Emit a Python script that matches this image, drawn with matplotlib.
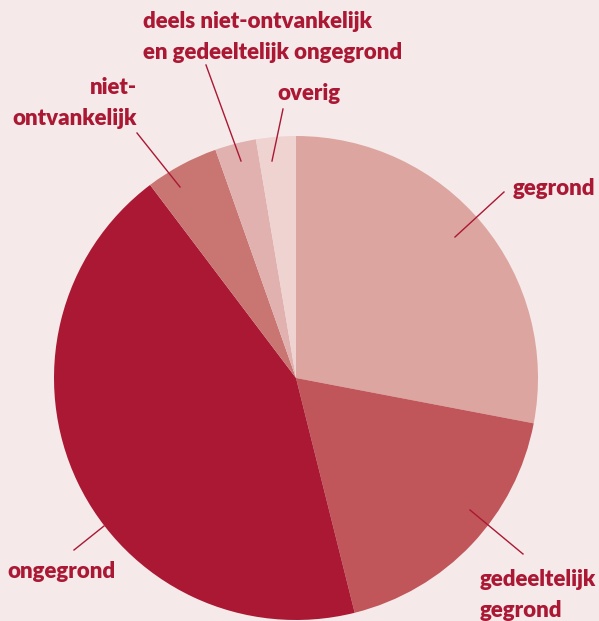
import numpy as np
import matplotlib.pyplot as plt

# slice data, clockwise from 12 o'clock
labels = ['gegrond', 'gedeeltelijk\ngegrond', 'ongegrond', 'niet-\nontvankelijk',
          'deels niet-ontvankelijk\nen gedeeltelijk ongegrond', 'overig']
values = [28.0, 18.1, 43.6, 4.9, 2.75, 2.65]
colors = ['#DCA5A0', '#C0555A', '#AA1834', '#C97572', '#E0B1AE', '#EED3D1']

bg = '#F6E9E9'
txt = '#AA1834'

W, H = 599, 621
cx, cy, R = 296, 378, 242

fig = plt.figure(figsize=(W / 100, H / 100), dpi=100)
fig.patch.set_facecolor(bg)
ax = fig.add_axes([(cx - R) / W, (H - cy - R) / H, 2 * R / W, 2 * R / H])
ax.set_facecolor(bg)
ax.axis('off')

ax.pie(values, colors=colors, startangle=90, counterclock=False, radius=1,
       wedgeprops=dict(linewidth=0))
ax.set_xlim(-1, 1)
ax.set_ylim(-1, 1)
ax.set_aspect('equal')


def px(x, y):
    # pixel position in the picture -> data coordinates of the pie axes
    return (x - cx) / R, (cy - y) / R


# leader lines (start inside wedge, end near label) and label anchors
lines = [
    ((455, 237), (504, 192)),
    ((470, 510), (523, 554)),
    ((104, 526), (74, 550)),
    ((180, 187), (137, 133)),
    ((241, 161), (206, 65)),
    ((272, 161), (283, 109)),
]
anchors = [
    ((513, 188), 'left'),
    ((480, 595), 'left'),
    ((7, 572), 'left'),
    ((137, 103), 'right'),
    ((143, 37), 'left'),
    ((277, 93), 'left'),
]

for (p0, p1) in lines:
    x0, y0 = px(*p0)
    x1, y1 = px(*p1)
    ax.plot([x0, x1], [y0, y1], color=txt, lw=1, clip_on=False)

for lab, (pos, ha) in zip(labels, anchors):
    x, y = px(*pos)
    ax.text(x, y, lab, ha=ha, va='center', color=txt, fontsize=16,
            fontfamily='Lato', fontweight='heavy', linespacing=1.6,
            multialignment=ha, clip_on=False)

fig.savefig('out.png', dpi=100, facecolor=bg)
